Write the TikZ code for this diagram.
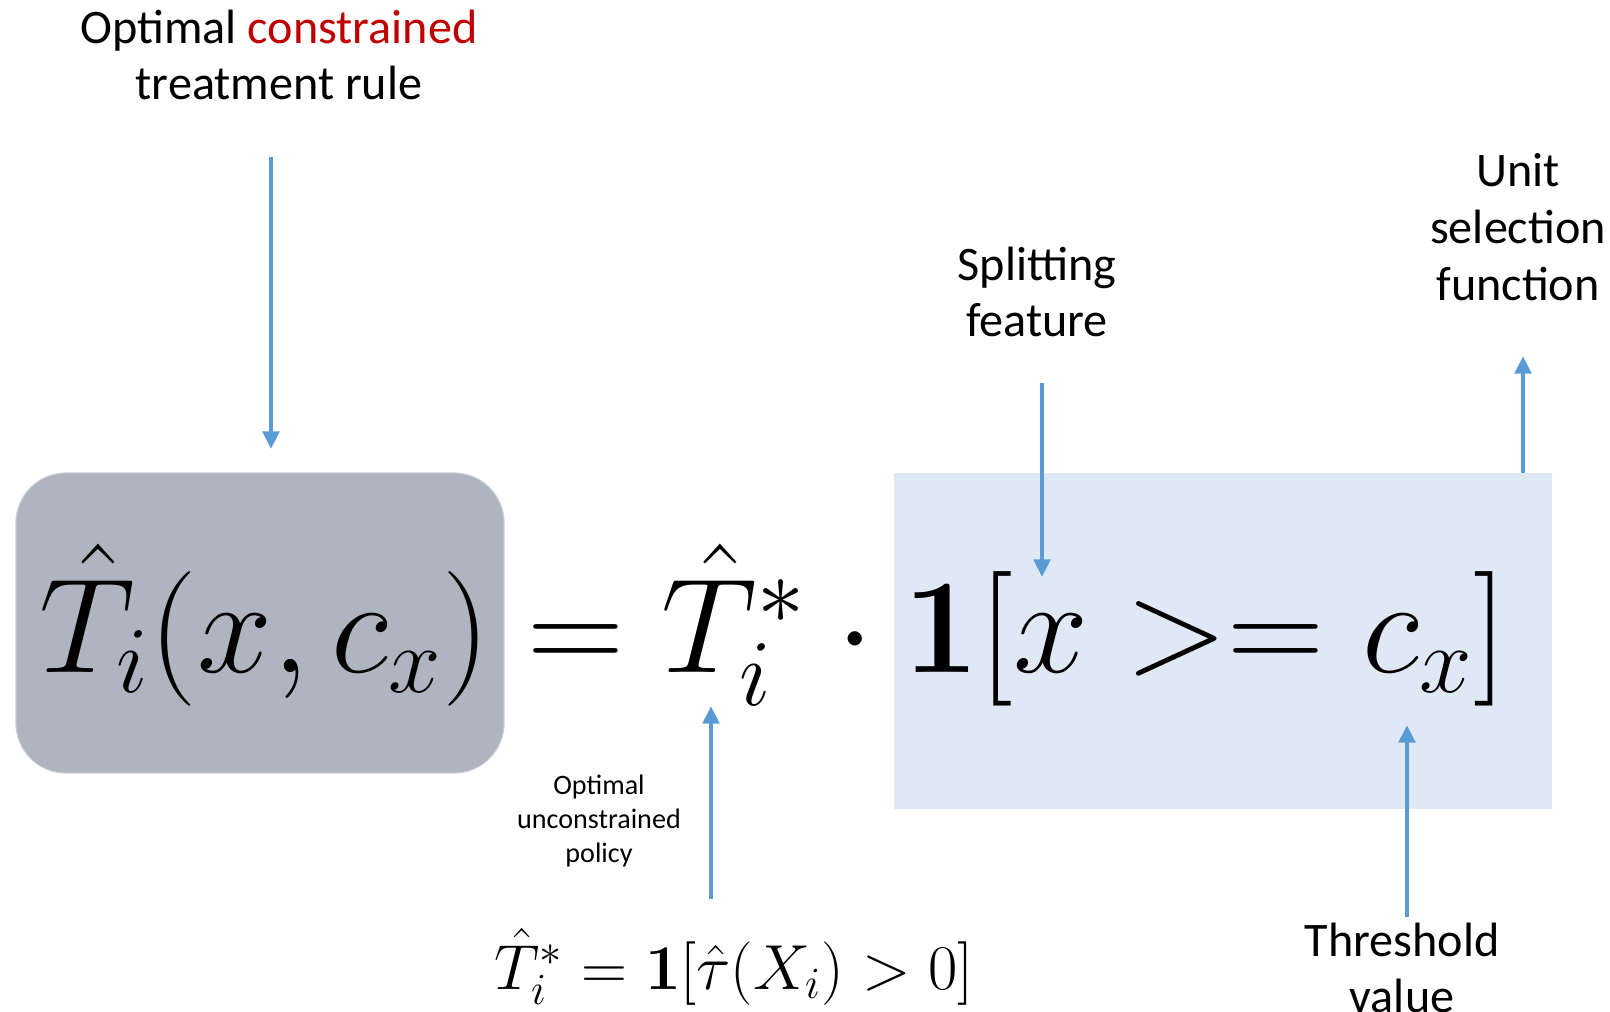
\documentclass[tikz,border=0pt]{standalone}
\usepackage{fix-cm}
\usepackage{amsmath}
\usepackage[no-math]{fontspec}
\setmainfont{Carlito}
\usepackage{xcolor}
\usetikzlibrary{arrows.meta,positioning}
\definecolor{arrowblue}{RGB}{91,155,213}
\definecolor{boxgray}{RGB}{174,180,192}
\definecolor{boxblue}{RGB}{223,233,245}
\definecolor{darkred}{RGB}{192,0,0}

\begin{document}
\begin{tikzpicture}[x=0.01cm, y=-0.01cm]
\tikzstyle{bigtext} = [align=center, inner sep=0pt, font=\fontsize{13.7}{16.1}\selectfont]
\tikzstyle{smalltext} = [align=center, inner sep=0pt, font=\fontsize{8}{9.7}\selectfont]
\tikzstyle{graybox} = [rectangle, rounded corners=0.5cm, fill=boxgray, draw=boxgray!60!white, line width=0.3pt]
\tikzstyle{bluebox} = [rectangle, fill=boxblue]
\tikzstyle{arrow} = [line width=1.4pt, draw=arrowblue, -{Triangle[width=4.6pt, length=5pt]}]

\useasboundingbox (0,0) rectangle (1610,1011);

% boxes behind the rule
\node (lhsbox) [graybox, minimum width=4.88cm, minimum height=3cm] at (260,623) {};
\node (rhsbox) [bluebox, minimum width=6.57cm, minimum height=3.36cm] at (1223,641) {};

% the rule itself
\node (rule) [anchor=base, inner sep=0pt, font=\fontsize{38.3}{46}\selectfont] at (773,672)
  {$\hat{T}_i(x, c_x) = \hat{T}^*_i \cdot \mathbf{1}[x >= c_x]$};
\node (tstar) [anchor=base, inner sep=0pt, font=\fontsize{18.1}{22}\selectfont] at (734,989)
  {$\hat{T}^*_i = \mathbf{1}[\hat{\tau}(X_i) > 0]$};

% labels
\node (toplabel) [bigtext] at (279,55) {Optimal \textcolor{darkred}{constrained}\\treatment rule};
\node (splitlabel) [bigtext] at (1037,292) {Splitting\\feature};
\node (unitlabel) [bigtext] at (1518,227) {Unit\\selection\\function};
\node (threshlabel) [bigtext] at (1402,968) {Threshold\\value};
\node (policylabel) [smalltext] at (599,821) {Optimal\\unconstrained\\policy};

% arrows
\coordinate (toptail) at (271,157);
\coordinate (tophead) at (271,449);
\coordinate (splittail) at (1042,383);
\coordinate (splithead) at (1042,577);
\coordinate (unittail) at (1523,473);
\coordinate (unithead) at (1523,356);
\coordinate (threshtail) at (1407,917);
\coordinate (threshhead) at (1407,725);
\coordinate (policytail) at (711,899);
\coordinate (policyhead) at (711,706);

\draw [arrow] (toptail) -- (tophead);
\draw [arrow] (splittail) -- (splithead);
\draw [arrow] (unittail) -- (unithead);
\draw [arrow] (threshtail) -- (threshhead);
\draw [arrow] (policytail) -- (policyhead);
\end{tikzpicture}
\end{document}
